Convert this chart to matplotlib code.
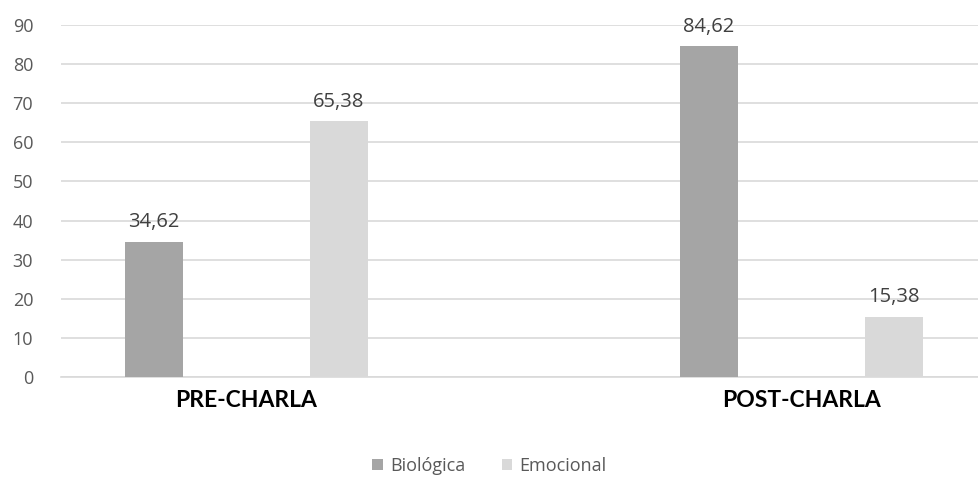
import numpy as np
import matplotlib.pyplot as plt

# categorías y porcentajes por tipo de respuesta
grupos = ['PRE-CHARLA', 'POST-CHARLA']
biologica = [34.62, 84.62]
emocional = [65.38, 15.38]
ticks_y = [0, 10, 20, 30, 40, 50, 60, 70, 80, 90]

plt.rcParams['font.family'] = ['Open Sans', 'DejaVu Sans']

fig = plt.figure(figsize=(9.79, 4.79), dpi=100)
ax = fig.add_axes([0.0623, 0.2129, 0.9377, 0.7349])

x = np.arange(len(grupos))
ancho = 0.105
desp = 0.167

b1 = ax.bar(x - desp, biologica, ancho, color='#a5a5a5', label='Biológica', zorder=3)
b2 = ax.bar(x + desp, emocional, ancho, color='#d9d9d9', label='Emocional', zorder=3)

for barras in (b1, b2):
    for b in barras:
        v = b.get_height()
        ax.text(b.get_x() + b.get_width() / 2, v + 2.4, f'{v:.2f}'.replace('.', ','),
                ha='center', va='bottom', fontsize=14.5, color='#404040')

ax.set_ylim(0, 90)
ax.set_xlim(-0.334, 1.32)
ax.set_yticks(ticks_y)
ax.set_yticklabels([str(t) for t in ticks_y], fontsize=13, color='#595959')
ax.yaxis.grid(True, color='#d9d9d9', linewidth=1.2, zorder=0)
ax.tick_params(axis='y', length=0, pad=20)
ax.tick_params(axis='x', length=0, pad=9)
ax.set_xticks(x)
ax.set_xticklabels(grupos, fontsize=16.5, fontweight='bold', color='black', family=['Lato', 'DejaVu Sans'])
for s in ['top', 'right', 'left']:
    ax.spines[s].set_visible(False)
ax.spines['bottom'].set_color('#d9d9d9')
ax.spines['bottom'].set_linewidth(1.2)

fig.legend(handles=[b1, b2], labels=['Biológica', 'Emocional'], loc='center',
           bbox_to_anchor=(0.5, 0.027), ncol=2, frameon=False, fontsize=13,
           labelcolor='#595959', handlelength=0.6, handleheight=0.6,
           handletextpad=0.4, columnspacing=2.0)

fig.savefig('out.png', dpi=100)
